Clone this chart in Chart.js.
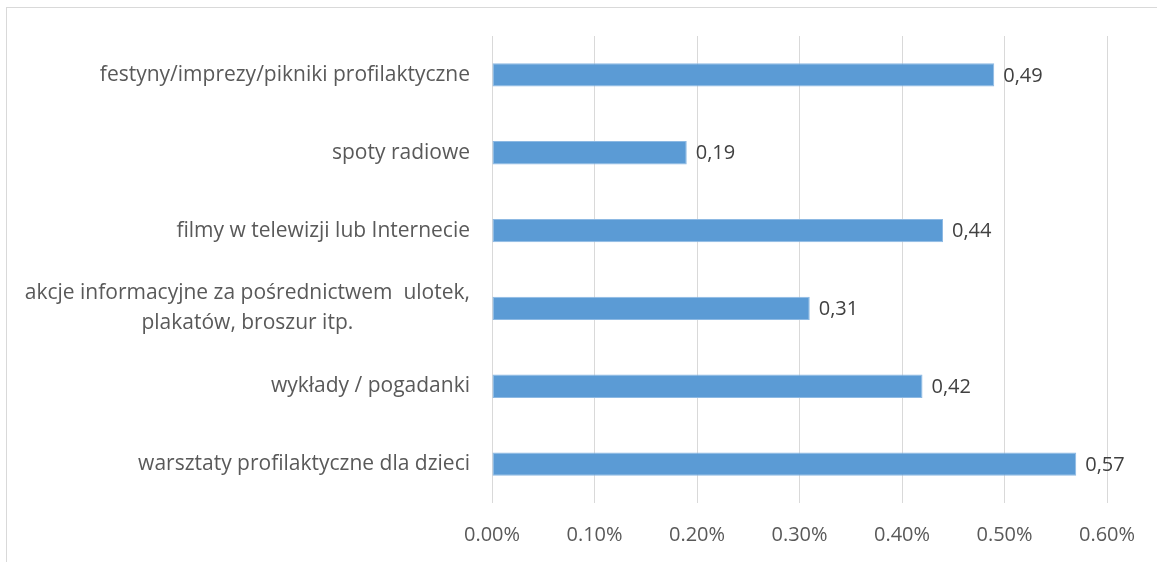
<!DOCTYPE html>
<html>
<head>
<meta charset="utf-8">
<script src="https://cdn.jsdelivr.net/npm/chart.js@4.4.1/dist/chart.umd.min.js"></script>
<style>
  html, body { margin: 0; padding: 0; background: #fff; overflow: hidden; }
  #wrap { position: relative; width: 1157px; height: 562px; }
  #frame { position: absolute; left: 6px; top: 7px; width: 1200px; height: 600px; border: 1px solid #d9d9d9; }
  #chart { position: absolute; left: 0; top: 0; }
</style>
</head>
<body>
<div id="wrap">
  <div id="frame"></div>
  <canvas id="chart" width="1157" height="562"></canvas>
</div>
<script>
const categories = [
    'festyny/imprezy/pikniki profilaktyczne',
    'spoty radiowe',
    'filmy w telewizji lub Internecie',
    ['akcje informacyjne za pośrednictwem  ulotek,', 'plakatów, broszur itp.'],
    'wykłady / pogadanki',
    'warsztaty profilaktyczne dla dzieci'
];
const values = [0.49, 0.19, 0.44, 0.31, 0.42, 0.57];
const xMin = 0;
const xMax = 0.6;
const xStep = 0.1;

const FONT = '"Open Sans", sans-serif';
const LABEL_SIZE = 21;
const TICK_SIZE = 20;
const TEXT = '#595959';
const GRID = '#d9d9d9';
const BAR = '#5b9bd5';

// labels on the left, right-aligned as a block, lines centred inside it
const categoryLabels = {
    id: 'categoryLabels',
    afterDraw(chart) {
        const ctx = chart.ctx;
        const yScale = chart.scales.y;
        const right = chart.chartArea.left - 22;
        const lh = 30;
        ctx.save();
        ctx.font = `${LABEL_SIZE}px ${FONT}`;
        ctx.fillStyle = TEXT;
        ctx.textAlign = 'center';
        ctx.textBaseline = 'middle';
        categories.forEach((lbl, i) => {
            const lines = Array.isArray(lbl) ? lbl : [lbl];
            const w = Math.max(...lines.map(l => ctx.measureText(l).width));
            const y = yScale.getPixelForValue(i);
            lines.forEach((l, j) => {
                ctx.fillText(l, right - w / 2, y + (j - (lines.length - 1) / 2) * lh);
            });
        });
        ctx.restore();
    }
};

// value next to the end of every bar
const valueLabels = {
    id: 'valueLabels',
    afterDatasetsDraw(chart) {
        const ctx = chart.ctx;
        const meta = chart.getDatasetMeta(0);
        ctx.save();
        ctx.font = `${TICK_SIZE}px ${FONT}`;
        ctx.fillStyle = '#404040';
        ctx.textAlign = 'left';
        ctx.textBaseline = 'middle';
        meta.data.forEach((bar, i) => {
            ctx.fillText(values[i].toFixed(2).replace('.', ','), bar.x + 9, bar.y + 1);
        });
        ctx.restore();
    }
};

const ctx = document.getElementById('chart').getContext('2d');
new Chart(ctx, {
    type: 'bar',
    data: {
        labels: categories,
        datasets: [{
            data: values,
            backgroundColor: BAR,
            borderColor: '#8db9e3',
            borderWidth: 1,
            borderSkipped: false,
            barPercentage: 0.3,
            categoryPercentage: 1
        }]
    },
    options: {
        indexAxis: 'y',
        responsive: false,
        animation: false,
        layout: { padding: { top: 36, right: 50, bottom: 0, left: 0 } },
        plugins: {
            legend: { display: false },
            tooltip: { enabled: false }
        },
        scales: {
            x: {
                min: xMin,
                max: xMax,
                border: { display: false },
                grid: { color: GRID, lineWidth: 1, drawTicks: false },
                ticks: {
                    stepSize: xStep,
                    padding: 20,
                    color: TEXT,
                    font: { family: FONT, size: TICK_SIZE },
                    callback: v => v.toFixed(2) + '%'
                },
                afterFit(scale) { scale.height = 59; }
            },
            y: {
                border: { display: false },
                grid: { display: false },
                ticks: { display: false },
                afterFit(scale) { scale.width = 492; }
            }
        }
    },
    plugins: [categoryLabels, valueLabels]
});
</script>
</body>
</html>
